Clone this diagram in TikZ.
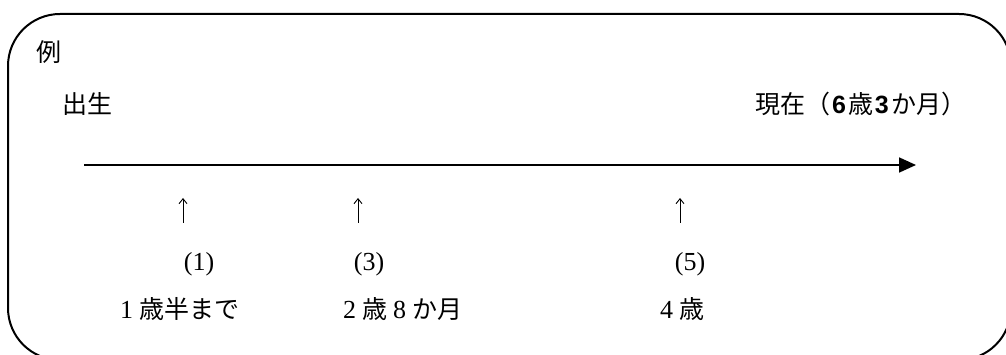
\documentclass[tikz,border=0pt]{standalone}
\usepackage{fontspec}
\setmainfont{Liberation Serif}
\newfontfamily\jp{Noto Sans CJK JP}
\newfontfamily\bsans{Liberation Sans}
\usetikzlibrary{arrows.meta}
\begin{document}
\begin{tikzpicture}[x=1pt,y=-1pt,
  lbl/.style={inner sep=0pt, font=\fontsize{25}{29}\selectfont},
  num/.style={inner sep=0pt, font=\fontsize{26}{30}\selectfont},
  frame/.style={line width=2pt, rounded corners=52pt},
  mainarrow/.style={line width=1.8pt, -{Triangle[length=17pt,width=15pt]}},
  uparrow/.style={line width=0.9pt, -{Straight Barb[length=5pt,width=8pt]}}]
\useasboundingbox (0,0) rectangle (1006,355);
\clip (0,0) rectangle (1006,355);
\draw[frame] (8,14) rectangle (1011,360);
\node[lbl] (rei) at (49,52) {\jp 例};
\node[lbl, anchor=west] (birth) at (62,104) {\jp 出生};
\node[lbl, anchor=east] (now) at (967,104) {\jp 現在（\kern2pt{\bsans\bfseries 6}\kern3pt 歳\kern1pt{\bsans\bfseries 3}\kern3pt か月）};
\coordinate (s) at (84,165);
\coordinate (e) at (916,165);
\draw[mainarrow] (s) -- (e);
\coordinate (a1b) at (183,223); \coordinate (a1t) at (183,198);
\coordinate (a3b) at (358,223); \coordinate (a3t) at (358,198);
\coordinate (a5b) at (680,223); \coordinate (a5t) at (680,198);
\draw[uparrow] (a1b) -- (a1t);
\draw[uparrow] (a3b) -- (a3t);
\draw[uparrow] (a5b) -- (a5t);
\node[num] (n1) at (199,264) {(1)};
\node[num] (n3) at (369,264) {(3)};
\node[num] (n5) at (690,264) {(5)};
\node[num, anchor=west] (t1) at (120,309) {1\kern6pt{\jp\fontsize{25}{29}\selectfont 歳半まで}};
\node[num, anchor=west] (t3) at (343,309) {2\kern6pt{\jp\fontsize{25}{29}\selectfont 歳}\kern6pt 8\kern6pt{\jp\fontsize{25}{29}\selectfont か月}};
\node[num, anchor=west] (t5) at (660,309) {4\kern6pt{\jp\fontsize{25}{29}\selectfont 歳}};
\end{tikzpicture}
\end{document}
